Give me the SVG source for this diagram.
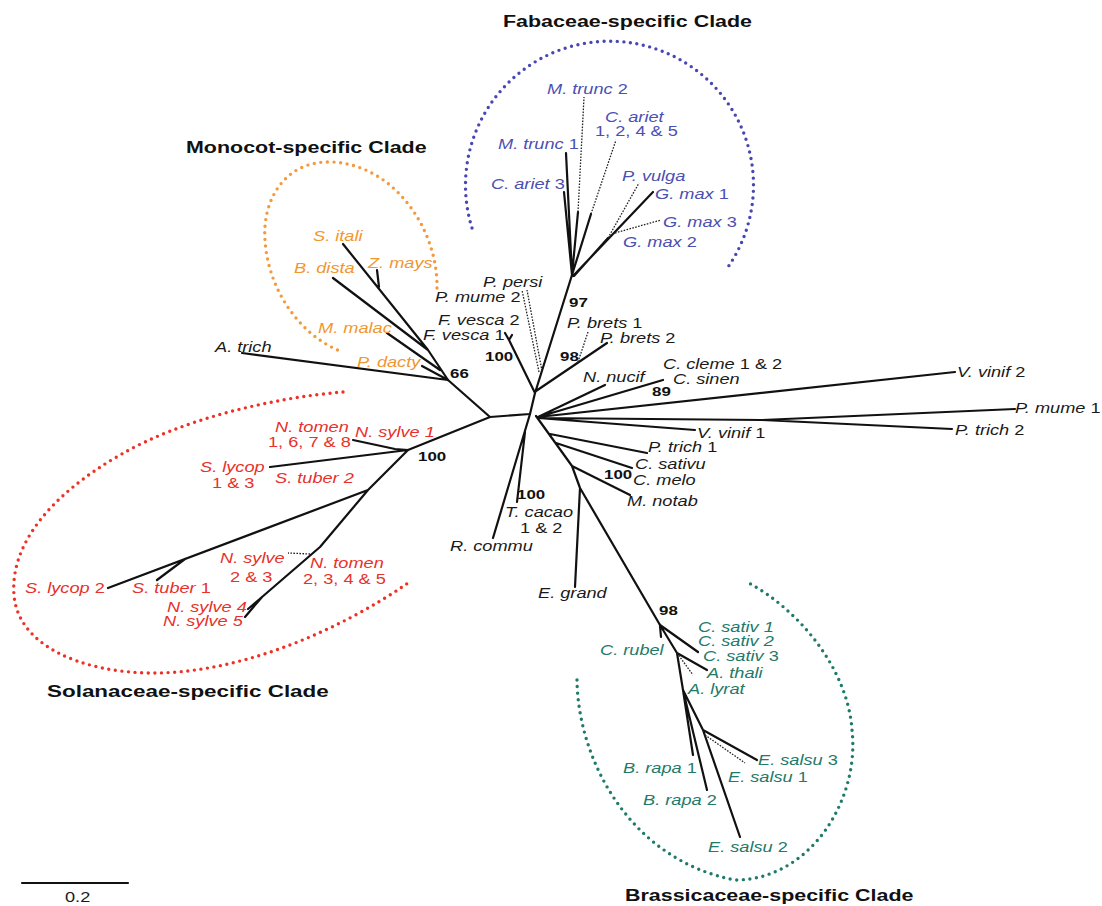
<svg xmlns="http://www.w3.org/2000/svg" width="1102" height="906" viewBox="0 0 1102 906">
<style>
.br{stroke:#111;stroke-width:2.2;fill:none;stroke-linecap:round;stroke-linejoin:round}
.dt{stroke:#222;stroke-width:1.3;stroke-dasharray:1.6 1.4;fill:none}
.arc{fill:none;stroke-width:3.4;stroke-linecap:round;stroke-dasharray:0 6.6}
text{font-family:"Liberation Sans",Arial,sans-serif}
.lb{font-size:14px;font-style:italic;fill:#1a1a1a}
.n{font-style:normal}
.bs{font-size:13px;font-weight:bold;fill:#111}
.ttl{font-size:16.5px;font-weight:bold;fill:#111}
.bl{fill:#4b4fb3}.or{fill:#f2962f}.rd{fill:#e8312a}.gr{fill:#237a69}
</style>
<rect width="1102" height="906" fill="#fff"/>
<g id="clades">
<path class="arc" stroke="#4646b4" d="M472 228 A144 144 0 1 1 728 267"/>
<path class="arc" stroke="#f39a3c" d="M437 288 C438 230 395 165 332 162 C285 160 262 200 265 240 C268 290 300 335 340 351"/>
<path class="arc" stroke="#ee3124" d="M343 392 C270 398 180 420 120 455 C50 495 10 545 14 595 C18 645 80 672 150 673 C240 674 340 630 408 583"/>
<path class="arc" stroke="#1f7a68" d="M577 680 C578 760 630 860 735 880 C810 880 860 800 852 730 C848 670 800 610 747 582"/>
</g>
<g id="connectors">
<path class="br" d="M490 417 L530 414 M448 380 L490 417 M408 450 L490 417 M530 414 L535 393 M535 393 L572 275 M535 393 L509 340 L505 333 M509 340 L512 335 M536 391 L607 343"/>
<path class="dt" d="M578 362 L588 332 M539 372 L522 290 M542 371 L527 290"/>
<path class="br" d="M572 275 L564 192 M572 275 L566 153 M572 275 L578 212 M572 275 L591 214 M573 276 L653 192 M574 276 L608 238"/>
<path class="dt" d="M578 212 L584 97 M591 214 L616 140 M608 238 L639 183 M615 233 L661 220"/>
<path class="br" d="M448 380 L242 353 M448 380 L422 366 M440 370 L387 333 M448 380 L428 350 L343 244 M428 350 L333 278 M379 287 L377 270"/>
<path class="br" d="M408 450 L395 449 L353 440 M408 450 L270 467 M408 450 L368 490 L108 588 M185 559 L157 580 M368 490 L320 547 L262 597 L248 609 M262 597 L245 617"/>
<path class="dt" d="M310 554 L288 553"/>
<path class="br" d="M538 417 L605 385 M538 417 L663 380 M538 417 L955 372 M538 418 L762 420 L1015 409 M762 420 L952 429 M538 418 L695 430"/>
<path class="br" d="M536 416 L572 466 L580 488 L660 625 M550 434 L647 453 M556 443 L632 468 M572 466 L630 495 M580 488 L575 587 M530 414 L493 538 M525 432 L517 502"/>
<path class="br" d="M660 625 L698 652 M660 626 L661 637 M660 625 L677 653 L707 670 M677 653 L683 690 L693 755 M683 690 L707 790 M683 690 L703 730 L757 760 M703 730 L740 837"/>
<path class="dt" d="M677 653 L693 675 M705 735 L745 763"/>
<path class="br" d="M22 883 L128 883"/>
</g>
<g id="titles">
<text class="ttl" transform="translate(503,27) scale(1.3,1)">Fabaceae-specific Clade</text>
<text class="ttl" transform="translate(186,153) scale(1.3,1)">Monocot-specific Clade</text>
<text class="ttl" transform="translate(47,697) scale(1.36,1)">Solanaceae-specific Clade</text>
<text class="ttl" transform="translate(625,901) scale(1.3,1)">Brassicaceae-specific Clade</text>
</g>
<g id="fabaceae">
<g id="mtrunc2"><text class="lb bl" transform="translate(547,94) scale(1.3,1)">M. trunc <tspan class="n">2</tspan></text></g>
<g id="cariet1245"><text class="lb bl" transform="translate(605,122) scale(1.3,1)">C. ariet</text><text class="lb bl n" transform="translate(595,136) scale(1.3,1)">1, 2, 4 &amp; 5</text></g>
<g id="mtrunc1"><text class="lb bl" transform="translate(498,149) scale(1.3,1)">M. trunc <tspan class="n">1</tspan></text></g>
<g id="cariet3"><text class="lb bl" transform="translate(491,189) scale(1.3,1)">C. ariet <tspan class="n">3</tspan></text></g>
<g id="pvulga"><text class="lb bl" transform="translate(622,181) scale(1.3,1)">P. vulga</text></g>
<g id="gmax1"><text class="lb bl" transform="translate(655,199) scale(1.3,1)">G. max <tspan class="n">1</tspan></text></g>
<g id="gmax3"><text class="lb bl" transform="translate(663,227) scale(1.3,1)">G. max <tspan class="n">3</tspan></text></g>
<g id="gmax2"><text class="lb bl" transform="translate(623,247) scale(1.3,1)">G. max <tspan class="n">2</tspan></text></g>
</g>
<g id="monocot">
<g id="sitali"><text class="lb or" transform="translate(313,241) scale(1.3,1)">S. itali</text></g>
<g id="zmays"><text class="lb or" transform="translate(368,268) scale(1.3,1)">Z. mays</text></g>
<g id="bdista"><text class="lb or" transform="translate(294,273) scale(1.3,1)">B. dista</text></g>
<g id="mmalac"><text class="lb or" transform="translate(318,333) scale(1.3,1)">M. malac</text></g>
<g id="pdacty"><text class="lb or" transform="translate(357,367) scale(1.3,1)">P. dacty</text></g>
</g>
<g id="solanaceae">
<g id="ntomen1678"><text class="lb rd" transform="translate(275,432) scale(1.3,1)">N. tomen</text><text class="lb rd n" transform="translate(268,447) scale(1.3,1)">1, 6, 7 &amp; 8</text></g>
<g id="nsylve1"><text class="lb rd" transform="translate(355,437) scale(1.3,1)">N. sylve 1</text></g>
<g id="slycop13"><text class="lb rd" transform="translate(200,472) scale(1.3,1)">S. lycop</text><text class="lb rd n" transform="translate(212,488) scale(1.3,1)">1 &amp; 3</text></g>
<g id="stuber2"><text class="lb rd" transform="translate(275,483) scale(1.3,1)">S. tuber 2</text></g>
<g id="nsylve23"><text class="lb rd" transform="translate(220,563) scale(1.3,1)">N. sylve</text><text class="lb rd n" transform="translate(230,582) scale(1.3,1)">2 &amp; 3</text></g>
<g id="ntomen2345"><text class="lb rd" transform="translate(310,568) scale(1.3,1)">N. tomen</text><text class="lb rd n" transform="translate(303,584) scale(1.3,1)">2, 3, 4 &amp; 5</text></g>
<g id="slycop2"><text class="lb rd" transform="translate(25,593) scale(1.3,1)">S. lycop <tspan class="n">2</tspan></text></g>
<g id="stuber1"><text class="lb rd" transform="translate(132,593) scale(1.3,1)">S. tuber <tspan class="n">1</tspan></text></g>
<g id="nsylve4"><text class="lb rd" transform="translate(167,612) scale(1.3,1)">N. sylve 4</text></g>
<g id="nsylve5"><text class="lb rd" transform="translate(163,626) scale(1.3,1)">N. sylve 5</text></g>
</g>
<g id="others">
<g id="atrich"><text class="lb" transform="translate(215,352) scale(1.3,1)">A. trich</text></g>
<g id="ppersi"><text class="lb" transform="translate(483,287) scale(1.3,1)">P. persi</text></g>
<g id="pmume2"><text class="lb" transform="translate(435,302) scale(1.3,1)">P. mume <tspan class="n">2</tspan></text></g>
<g id="fvesca2"><text class="lb" transform="translate(438,325) scale(1.3,1)">F. vesca <tspan class="n">2</tspan></text></g>
<g id="fvesca1"><text class="lb" transform="translate(423,340) scale(1.3,1)">F. vesca <tspan class="n">1</tspan></text></g>
<g id="pbrets1"><text class="lb" transform="translate(567,328) scale(1.3,1)">P. brets <tspan class="n">1</tspan></text></g>
<g id="pbrets2"><text class="lb" transform="translate(600,343) scale(1.3,1)">P. brets <tspan class="n">2</tspan></text></g>
<g id="nnucif"><text class="lb" transform="translate(583,382) scale(1.3,1)">N. nucif</text></g>
<g id="ccleme"><text class="lb" transform="translate(663,369) scale(1.3,1)">C. cleme <tspan class="n">1 &amp; 2</tspan></text></g>
<g id="csinen"><text class="lb" transform="translate(673,384) scale(1.3,1)">C. sinen</text></g>
<g id="vvinif2"><text class="lb" transform="translate(957,377) scale(1.3,1)">V. vinif <tspan class="n">2</tspan></text></g>
<g id="pmume1"><text class="lb" transform="translate(1015,413) scale(1.3,1)">P. mume <tspan class="n">1</tspan></text></g>
<g id="ptrich2"><text class="lb" transform="translate(955,435) scale(1.3,1)">P. trich <tspan class="n">2</tspan></text></g>
<g id="vvinif1"><text class="lb" transform="translate(697,438) scale(1.3,1)">V. vinif <tspan class="n">1</tspan></text></g>
<g id="ptrich1"><text class="lb" transform="translate(648,452) scale(1.3,1)">P. trich <tspan class="n">1</tspan></text></g>
<g id="csativu"><text class="lb" transform="translate(635,469) scale(1.3,1)">C. sativu</text></g>
<g id="cmelo"><text class="lb" transform="translate(633,485) scale(1.3,1)">C. melo</text></g>
<g id="mnotab"><text class="lb" transform="translate(627,506) scale(1.3,1)">M. notab</text></g>
<g id="tcacao"><text class="lb" transform="translate(505,517) scale(1.3,1)">T. cacao</text><text class="lb n" transform="translate(520,533) scale(1.3,1)">1 &amp; 2</text></g>
<g id="rcommu"><text class="lb" transform="translate(450,551) scale(1.3,1)">R. commu</text></g>
<g id="egrand"><text class="lb" transform="translate(538,598) scale(1.3,1)">E. grand</text></g>
</g>
<g id="brassicaceae">
<g id="csativ1"><text class="lb gr" transform="translate(698,632) scale(1.3,1)">C. sativ 1</text></g>
<g id="csativ2"><text class="lb gr" transform="translate(698,646) scale(1.3,1)">C. sativ 2</text></g>
<g id="csativ3"><text class="lb gr" transform="translate(703,661) scale(1.3,1)">C. sativ <tspan class="n">3</tspan></text></g>
<g id="crubel"><text class="lb gr" transform="translate(600,655) scale(1.3,1)">C. rubel</text></g>
<g id="athali"><text class="lb gr" transform="translate(707,678) scale(1.3,1)">A. thali</text></g>
<g id="alyrat"><text class="lb gr" transform="translate(688,694) scale(1.3,1)">A. lyrat</text></g>
<g id="brapa1"><text class="lb gr" transform="translate(623,773) scale(1.3,1)">B. rapa <tspan class="n">1</tspan></text></g>
<g id="esalsu3"><text class="lb gr" transform="translate(758,765) scale(1.3,1)">E. salsu <tspan class="n">3</tspan></text></g>
<g id="esalsu1"><text class="lb gr" transform="translate(728,782) scale(1.3,1)">E. salsu <tspan class="n">1</tspan></text></g>
<g id="brapa2"><text class="lb gr" transform="translate(643,805) scale(1.3,1)">B. rapa <tspan class="n">2</tspan></text></g>
<g id="esalsu2"><text class="lb gr" transform="translate(708,852) scale(1.3,1)">E. salsu <tspan class="n">2</tspan></text></g>
</g>
<g id="support">
<text class="bs" transform="translate(450,378) scale(1.3,1)">66</text>
<text class="bs" transform="translate(418,461) scale(1.3,1)">100</text>
<text class="bs" transform="translate(485,361) scale(1.3,1)">100</text>
<text class="bs" transform="translate(569,307) scale(1.3,1)">97</text>
<text class="bs" transform="translate(560,361) scale(1.3,1)">98</text>
<text class="bs" transform="translate(652,396) scale(1.3,1)">89</text>
<text class="bs" transform="translate(604,479) scale(1.3,1)">100</text>
<text class="bs" transform="translate(517,499) scale(1.3,1)">100</text>
<text class="bs" transform="translate(659,615) scale(1.3,1)">98</text>
</g>
<g id="scale"><text class="lb n" transform="translate(65,902) scale(1.3,1)">0.2</text></g>
</svg>
